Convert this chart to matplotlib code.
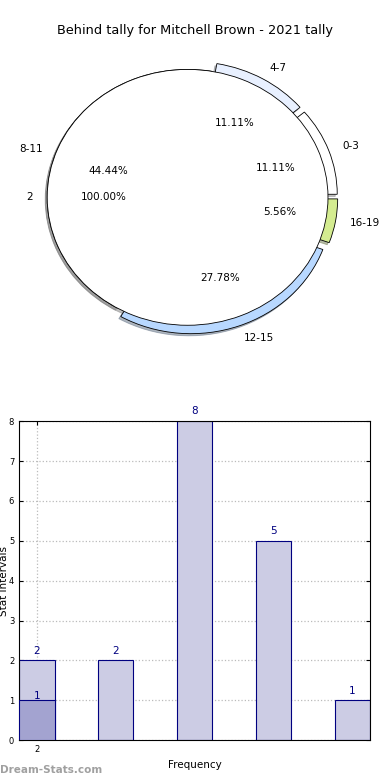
import matplotlib
matplotlib.use('agg')
import matplotlib.pyplot as plt

# data
title = 'Behind tally for Mitchell Brown - 2021 tally'
ring_labels = ['0-3', '4-7', '8-11', '12-15', '16-19']
ring_values = [2, 2, 8, 5, 1]
ring_colors = ['#ffffff', '#e8f0ff', '#ffffff', '#b8d8ff', '#d4ec90']
ring_explode = [0.07, 0.07, 0.0, 0.07, 0.07]
inner_labels = ['2']
inner_values = [1]

bar_values = [2, 2, 8, 5, 1]
highlight_value = 1
xtick_labels = ['2']

fig = plt.figure(figsize=(3.9, 7.8), dpi=100)

# pie (outer ring + inner single wedge on top)
shadow = {'ox': -0.01, 'oy': -0.012, 'shade': 0.5}
ax1 = fig.add_axes([0.031, 0.542, 0.90, 0.410])
ax1.pie(ring_values, labels=ring_labels, colors=ring_colors, explode=ring_explode,
        autopct='%.2f%%', startangle=0, shadow=shadow, labeldistance=1.1,
        wedgeprops={'edgecolor': 'black', 'linewidth': 0.6},
        textprops={'fontsize': 7.5})
ax1.pie(inner_values, labels=inner_labels, colors=['white'], autopct='%.2f%%',
        startangle=0, shadow=shadow, labeldistance=1.1,
        wedgeprops={'edgecolor': 'black', 'linewidth': 0.6},
        textprops={'fontsize': 7.5})
ax1.set_aspect('auto')
ax1.set_xlim(-1.25, 1.25)
ax1.set_ylim(-1.25, 1.25)
fig.text(0.5, 0.961, title, ha='center', va='center', fontsize=9.3)

# bars
ax2 = fig.add_axes([0.049, 0.051, 0.900, 0.409])
w = 0.45
x = list(range(len(bar_values)))
ax2.bar(x, bar_values, width=w, color='#ccccE4', edgecolor='#000080', linewidth=0.8, zorder=2)
ax2.bar([0], [highlight_value], width=w, color='#a3a3d0', edgecolor='#000080', linewidth=0.8, zorder=3)
for xi, v in zip(x, bar_values):
    ax2.text(xi, v + 0.12, str(v), ha='center', va='bottom', color='#000080', fontsize=7.5)
ax2.text(0, highlight_value + 0.12, str(highlight_value), ha='center', va='center',
         color='#000080', fontsize=7.5, zorder=4)
ax2.set_xlim(-w / 2, len(bar_values) - 1 + w / 2)
ax2.set_ylim(0, 8)
ax2.set_xticks([0])
ax2.set_xticklabels(xtick_labels)
ax2.set_yticks(range(0, 9))
ax2.tick_params(labelsize=6, direction='in', top=True, right=True, length=3)
ax2.grid(True, linestyle=':', color='#bbbbbb', linewidth=0.9, zorder=0)
ax2.set_axisbelow(True)
ax2.set_xlabel('Frequency', fontsize=7.5)
ax2.set_ylabel('Stat Intervals', fontsize=7.5, labelpad=0)

fig.text(0.0, 0.013, 'Dream-Stats.com', color='#a0a0a0', fontsize=7.5, fontweight='bold',
         ha='left', va='center')

fig.savefig('out.png', dpi=100)
